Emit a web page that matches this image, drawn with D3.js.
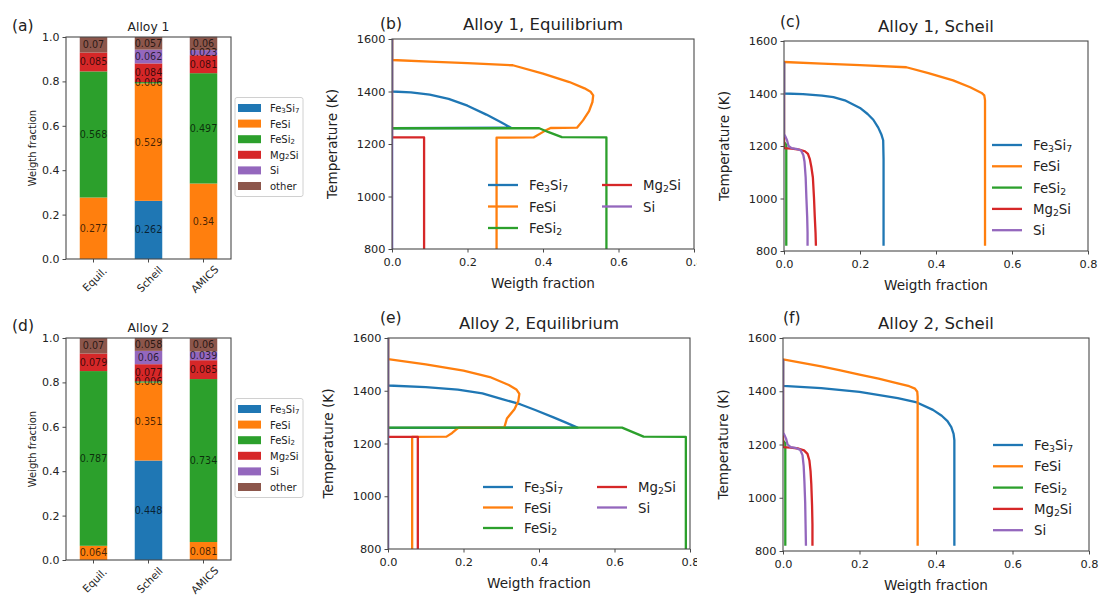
<!DOCTYPE html>
<html>
<head>
<meta charset="utf-8">
<script src="https://cdn.jsdelivr.net/npm/d3@7"></script>
<style>
body { margin: 0; background: #fff; }
svg { font-family: "DejaVu Sans", sans-serif; }
</style>
</head>
<body>
<svg id="fig" width="1104" height="596"></svg>
<script>
// phases, colours (matplotlib tab10)
const phaseNames = ["Fe_3Si_7", "FeSi", "FeSi_2", "Mg_2Si", "Si", "other"];
const phaseColors = ["#1f77b4", "#ff7f0e", "#2ca02c", "#d62728", "#9467bd", "#8c564b"];
const methods = ["Equil.", "Scheil", "AMICS"];

// stacked bar values, order = phaseNames
const alloy1Equil  = [0, 0.277, 0.568, 0.085, 0, 0.07];
const alloy1Scheil = [0.262, 0.529, 0.006, 0.084, 0.062, 0.057];
const alloy1Amics  = [0, 0.34, 0.497, 0.081, 0.023, 0.06];
const alloy2Equil  = [0, 0.064, 0.787, 0.079, 0, 0.07];
const alloy2Scheil = [0.448, 0.351, 0.006, 0.077, 0.06, 0.058];
const alloy2Amics  = [0, 0.081, 0.734, 0.085, 0.039, 0.06];

const barTicks = [0, 0.2, 0.4, 0.6, 0.8, 1.0];
const fracTicks = [0, 0.2, 0.4, 0.6, 0.8];
const tempTicks = [800, 1000, 1200, 1400, 1600];

// curves: [weight fraction, temperature K]
// Alloy 1, equilibrium
const a1EqFe3Si7 = [[0,1600],[0,1400],[0.05,1397],[0.1,1388],[0.15,1372],[0.2,1346],[0.25,1312],[0.29,1282],[0.315,1262],[0,1260],[0,800]];
const a1EqFeSi = [[0,1600],[0,1520],[0.1,1514],[0.2,1508],[0.32,1500],[0.4,1468],[0.47,1436],[0.51,1412],[0.526,1399],[0.533,1385],[0.531,1360],[0.522,1325],[0.506,1290],[0.49,1262],[0.42,1261],[0.405,1250],[0.375,1225],[0.277,1224],[0.277,800]];
const a1EqFeSi2 = [[0,1600],[0,1260],[0.39,1260],[0.415,1245],[0.45,1226],[0.568,1225],[0.568,800]];
const a1EqMg2Si = [[0,1600],[0,1225],[0.085,1225],[0.085,800]];
const a1EqSi = [[0,1600],[0,800]];

// Alloy 2, equilibrium
const a2EqFe3Si7 = [[0,1600],[0,1420],[0.1,1414],[0.185,1404],[0.25,1390],[0.3,1369],[0.35,1349],[0.39,1327],[0.44,1298],[0.47,1280],[0.502,1260],[0,1259],[0,800]];
const a2EqFeSi = [[0,1600],[0,1520],[0.1,1500],[0.2,1476],[0.27,1452],[0.32,1422],[0.34,1405],[0.348,1388],[0.345,1360],[0.335,1330],[0.315,1295],[0.308,1260],[0.19,1260],[0.185,1258],[0.17,1240],[0.155,1226],[0.064,1225],[0.064,800]];
const a2EqFeSi2 = [[0,1600],[0,1260],[0.62,1260],[0.65,1242],[0.677,1226],[0.789,1225],[0.789,800]];
const a2EqMg2Si = [[0,1600],[0,1225],[0.079,1225],[0.079,800]];
const a2EqSi = [[0,1600],[0,800]];

// Alloy 1, Scheil
const a1ScFe3Si7 = [[0,1520],[0,1400],[0.05,1398],[0.1,1392],[0.13,1386],[0.16,1374],[0.2,1345],[0.22,1322],[0.235,1300],[0.248,1270],[0.256,1245],[0.261,1222],[0.262,1150],[0.262,820]];
const a1ScFeSi = [[0,1520],[0.1,1514],[0.2,1508],[0.322,1500],[0.38,1478],[0.445,1450],[0.49,1424],[0.52,1402],[0.527,1393],[0.529,1375],[0.529,820]];
const a1ScFeSi2 = [[0,1520],[0,1215],[0.006,1205],[0.006,820]];
const a1ScMg2Si = [[0,1520],[0,1192],[0.02,1190],[0.04,1186],[0.055,1180],[0.063,1170],[0.068,1150],[0.072,1120],[0.076,1080],[0.079,1000],[0.081,930],[0.083,870],[0.084,820]];
const a1ScSi = [[0,1520],[0,1245],[0.003,1238],[0.008,1222],[0.012,1200],[0.02,1192],[0.035,1188],[0.045,1183],[0.051,1165],[0.054,1140],[0.057,1080],[0.059,1000],[0.061,930],[0.062,870],[0.062,820]];

// Alloy 2, Scheil
const a2ScFe3Si7 = [[0,1520],[0,1420],[0.1,1412],[0.2,1398],[0.3,1374],[0.35,1358],[0.392,1330],[0.415,1308],[0.43,1288],[0.44,1265],[0.446,1240],[0.448,1216],[0.448,820]];
const a2ScFeSi = [[0,1520],[0.05,1507],[0.1,1493],[0.15,1478],[0.2,1462],[0.25,1447],[0.3,1430],[0.33,1419],[0.345,1410],[0.351,1398],[0.352,1380],[0.352,820]];
const a2ScFeSi2 = [[0,1520],[0,1215],[0.006,1205],[0.006,820]];
const a2ScMg2Si = [[0,1520],[0,1190],[0.02,1188],[0.04,1185],[0.055,1178],[0.064,1165],[0.069,1140],[0.072,1100],[0.074,1050],[0.076,970],[0.077,900],[0.077,820]];
const a2ScSi = [[0,1520],[0,1245],[0.003,1238],[0.008,1222],[0.012,1200],[0.02,1190],[0.035,1186],[0.045,1180],[0.051,1160],[0.054,1120],[0.056,1060],[0.058,980],[0.059,900],[0.06,820]];

const svg = d3.select("#fig");
const ink = "#222", spine = "#4a4a4a";

// text with digit subscripts written as _n
function rich(sel, str, fs) {
    const parts = str.split(/(_\d)/).filter(s => s);
    let sub = false;
    parts.forEach(p => {
        if (p[0] === "_") {
            sel.append("tspan").attr("font-size", fs * 0.7).attr("dy", fs * 0.25).text(p.slice(1));
            sub = true;
        } else {
            const t = sel.append("tspan").text(p);
            if (sub) { t.attr("dy", -fs * 0.25); sub = false; }
        }
    });
}

function styleAxis(g, fs) {
    g.attr("font-family", null).attr("font-size", fs);
    g.select(".domain").remove();
    g.selectAll(".tick line").attr("stroke", spine);
    g.selectAll(".tick text").attr("fill", ink);
}

function barPanel(p) {
    const g = svg.append("g");
    const x = d3.scaleBand().domain(methods).range([p.x0, p.x1]).paddingInner(0.5).paddingOuter(0.25);
    const y = d3.scaleLinear().domain([0, 1]).range([p.y1, p.y0]);

    const rows = methods.map((m, i) => {
        const r = { method: m };
        phaseNames.forEach((ph, j) => r[ph] = p.cols[i][j]);
        return r;
    });
    const stacked = d3.stack().keys(phaseNames)(rows);

    stacked.forEach((s, si) => {
        g.selectAll(null).data(s).enter().append("rect")
            .attr("x", d => x(d.data.method))
            .attr("width", x.bandwidth())
            .attr("y", d => y(d[1]))
            .attr("height", d => y(d[0]) - y(d[1]))
            .attr("fill", phaseColors[si]);
    });
    stacked.forEach(s => {
        g.selectAll(null).data(s.filter(d => d[1] - d[0] > 0)).enter().append("text")
            .attr("x", d => x(d.data.method) + x.bandwidth() / 2)
            .attr("y", d => y((d[0] + d[1]) / 2))
            .attr("text-anchor", "middle").attr("dominant-baseline", "central")
            .attr("font-size", 9.6).attr("fill", "#000").attr("fill-opacity", 0.72)
            .text(d => String(d.data[s.key]));
    });

    const ya = g.append("g").attr("transform", `translate(${p.x0},0)`)
        .call(d3.axisLeft(y).tickValues(barTicks).tickFormat(d3.format(".1f")).tickSize(3.5).tickPadding(3));
    styleAxis(ya, 11);
    const xa = g.append("g").attr("transform", `translate(0,${p.y1})`)
        .call(d3.axisBottom(x).tickSize(3.5).tickFormat(""));
    styleAxis(xa, 11);
    g.selectAll(null).data(methods).enter().append("text")
        .attr("transform", d => `translate(${x(d) + x.bandwidth() / 2 + 1},${p.y1 + 20}) rotate(-45)`)
        .attr("text-anchor", "middle").attr("dominant-baseline", "central")
        .attr("font-size", 10.5).attr("fill", ink).text(d => d);

    g.append("rect").attr("x", p.x0).attr("y", p.y0).attr("width", p.x1 - p.x0).attr("height", p.y1 - p.y0)
        .attr("fill", "none").attr("stroke", spine).attr("stroke-width", 1.1);

    g.append("text").attr("x", (p.x0 + p.x1) / 2).attr("y", p.y0 - 6).attr("text-anchor", "middle")
        .attr("font-size", 12.3).attr("fill", ink).text(p.title);
    g.append("text").attr("transform", `translate(${p.x0 - 30},${(p.y0 + p.y1) / 2}) rotate(-90)`)
        .attr("text-anchor", "middle").attr("font-size", 10).attr("fill", ink).text("Weigth fraction");
    g.append("text").attr("x", p.tagX).attr("y", p.tagY).attr("font-size", 15.5).attr("fill", ink).text(p.tag);

    // legend
    const lx = 235, ly = p.y0 + 71, step = 15.6;
    g.append("rect").attr("x", lx).attr("y", ly - 10.5).attr("width", 68).attr("height", step * 5 + 21)
        .attr("rx", 2).attr("fill", "#fff").attr("stroke", "#d0d0d0");
    phaseNames.forEach((ph, i) => {
        g.append("rect").attr("x", lx + 3).attr("y", ly + i * step - 4).attr("width", 23).attr("height", 8)
            .attr("fill", phaseColors[i]);
        const t = g.append("text").attr("x", lx + 35).attr("y", ly + i * step)
            .attr("dominant-baseline", "central").attr("font-size", 10).attr("fill", ink);
        rich(t, ph, 10);
    });
}

function linePanel(p) {
    const g = svg.append("g");
    const x = d3.scaleLinear().domain([0, 0.8]).range([p.x0, p.x1]);
    const y = d3.scaleLinear().domain([800, 1600]).range([p.y1, p.y0]);
    const cid = "clip" + p.tag.replace(/\W/g, "");
    svg.append("clipPath").attr("id", cid).append("rect")
        .attr("x", p.x0).attr("y", p.y0).attr("width", p.x1 - p.x0).attr("height", p.y1 - p.y0);

    const line = d3.line().x(d => x(d[0])).y(d => y(d[1]));
    const lg = g.append("g").attr("clip-path", `url(#${cid})`);
    p.series.forEach((s, i) => {
        lg.append("path").attr("d", line(s)).attr("fill", "none")
            .attr("stroke", phaseColors[i]).attr("stroke-width", 2.3)
            .attr("stroke-linejoin", "round").attr("stroke-linecap", "butt");
    });

    const xa = g.append("g").attr("transform", `translate(0,${p.y1})`)
        .call(d3.axisBottom(x).tickValues(fracTicks).tickFormat(d3.format(".1f")).tickSize(3.5).tickPadding(5));
    styleAxis(xa, 11.3);
    if (p.clipRight) {
        // clip rect is in the axis group's own (translated) coordinates
        const xid = cid + "x";
        svg.append("clipPath").attr("id", xid).append("rect")
            .attr("x", 0).attr("y", -5).attr("width", p.clipRight).attr("height", 40);
        xa.attr("clip-path", `url(#${xid})`);
    }
    const ya = g.append("g").attr("transform", `translate(${p.x0},0)`)
        .call(d3.axisLeft(y).tickValues(tempTicks).tickFormat(d3.format("d")).tickSize(3.5).tickPadding(3));
    styleAxis(ya, 11.3);

    g.append("rect").attr("x", p.x0).attr("y", p.y0).attr("width", p.x1 - p.x0).attr("height", p.y1 - p.y0)
        .attr("fill", "none").attr("stroke", spine).attr("stroke-width", 1.1);

    g.append("text").attr("x", (p.x0 + p.x1) / 2).attr("y", p.y0 - 9).attr("text-anchor", "middle")
        .attr("font-size", 16.5).attr("fill", ink).text(p.title);
    g.append("text").attr("x", (p.x0 + p.x1) / 2).attr("y", p.y1 + 39).attr("text-anchor", "middle")
        .attr("font-size", 13.6).attr("fill", ink).text("Weigth fraction");
    g.append("text").attr("transform", `translate(${p.x0 - 55},${(p.y0 + p.y1) / 2}) rotate(-90)`)
        .attr("text-anchor", "middle").attr("font-size", 13.6).attr("fill", ink).text("Temperature (K)");
    g.append("text").attr("x", p.tagX).attr("y", p.tagY).attr("font-size", 15.5).attr("fill", ink).text(p.tag);

    const L = p.legend;
    phaseNames.slice(0, 5).forEach((ph, i) => {
        const col = Math.floor(i / L.rows), row = i % L.rows;
        const lx = L.x + col * (L.colW || 0), ly = L.y + row * L.rowH;
        g.append("line").attr("x1", lx).attr("x2", lx + 30).attr("y1", ly).attr("y2", ly)
            .attr("stroke", phaseColors[i]).attr("stroke-width", 2.3);
        const t = g.append("text").attr("x", lx + 41).attr("y", ly)
            .attr("dominant-baseline", "central").attr("font-size", 13.3).attr("fill", ink);
        rich(t, ph, 13.3);
    });
}

barPanel({ x0: 66, x1: 231, y0: 37, y1: 259, title: "Alloy 1", tag: "(a)", tagX: 12, tagY: 31,
    cols: [alloy1Equil, alloy1Scheil, alloy1Amics] });
barPanel({ x0: 66, x1: 231, y0: 338, y1: 560, title: "Alloy 2", tag: "(d)", tagX: 12, tagY: 331,
    cols: [alloy2Equil, alloy2Scheil, alloy2Amics] });

linePanel({ x0: 392, x1: 694, y0: 39, y1: 249, title: "Alloy 1, Equilibrium", tag: "(b)", tagX: 380, tagY: 29,
    clipRight: 697, legend: { x: 488, y: 185, rows: 3, colW: 114, rowH: 21.5 },
    series: [a1EqFe3Si7, a1EqFeSi, a1EqFeSi2, a1EqMg2Si, a1EqSi] });
linePanel({ x0: 388, x1: 690, y0: 338, y1: 549, title: "Alloy 2, Equilibrium", tag: "(e)", tagX: 380, tagY: 323,
    clipRight: 697, legend: { x: 483, y: 487, rows: 3, colW: 114, rowH: 20.5 },
    series: [a2EqFe3Si7, a2EqFeSi, a2EqFeSi2, a2EqMg2Si, a2EqSi] });
linePanel({ x0: 784, x1: 1088, y0: 41, y1: 251, title: "Alloy 1, Scheil", tag: "(c)", tagX: 780, tagY: 27,
    legend: { x: 992, y: 145, rows: 5, rowH: 21.3 },
    series: [a1ScFe3Si7, a1ScFeSi, a1ScFeSi2, a1ScMg2Si, a1ScSi] });
linePanel({ x0: 783, x1: 1089, y0: 338, y1: 551, title: "Alloy 2, Scheil", tag: "(f)", tagX: 783, tagY: 323,
    legend: { x: 993, y: 445, rows: 5, rowH: 21.3 },
    series: [a2ScFe3Si7, a2ScFeSi, a2ScFeSi2, a2ScMg2Si, a2ScSi] });
</script>
</body>
</html>
